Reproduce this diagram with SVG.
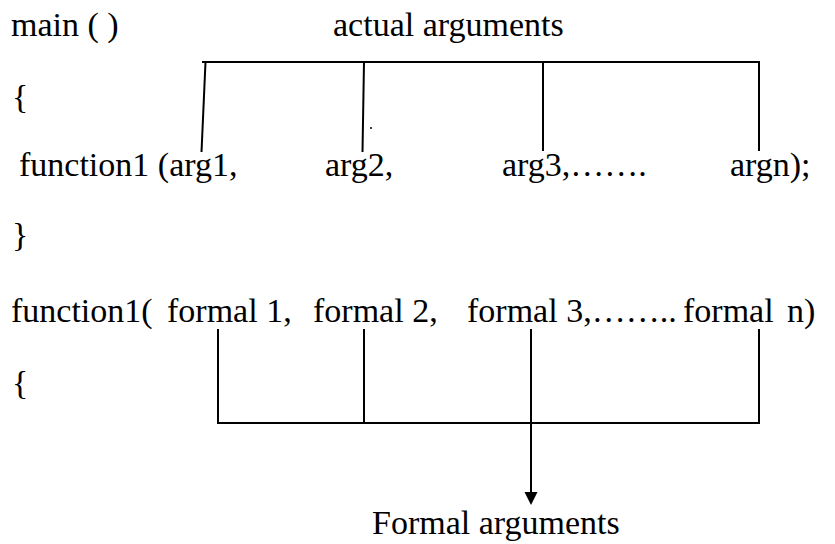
<svg xmlns="http://www.w3.org/2000/svg" width="835" height="544" viewBox="0 0 835 544">
<style>
.ln{stroke:#000;stroke-width:2;fill:none}
</style>
<rect width="835" height="544" fill="#fff"/>
<g id="code">
<text x="11" y="36" font-family="Liberation Serif" font-size="34">main ( )</text>
<text x="12" y="108" font-family="Liberation Serif" font-size="34">{</text>
<text x="19" y="176" font-family="Liberation Serif" font-size="34">function1 (arg1,</text>
<text x="325" y="176" font-family="Liberation Serif" font-size="34">arg2,</text>
<text x="502" y="176" font-family="Liberation Serif" font-size="34">arg3,…….</text>
<text x="730" y="176" font-family="Liberation Serif" font-size="34">argn);</text>
<text x="12" y="246" font-family="Liberation Serif" font-size="34">}</text>
<text x="11" y="322" font-family="Liberation Serif" font-size="34">function1(</text>
<text x="167" y="322" font-family="Liberation Serif" font-size="34">formal 1,</text>
<text x="313" y="322" font-family="Liberation Serif" font-size="34">formal 2,</text>
<text x="467" y="322" font-family="Liberation Serif" font-size="34">formal 3,……..</text>
<text x="683" y="322" font-family="Liberation Serif" font-size="34">formal</text>
<text x="787" y="322" font-family="Liberation Serif" font-size="34">n)</text>
<text x="12" y="394" font-family="Liberation Serif" font-size="34">{</text>
</g>
<g id="actual-label"><text x="333" y="36" font-family="Liberation Serif" font-size="34">actual arguments</text></g>
<g id="formal-label"><text x="372" y="534" font-family="Liberation Serif" font-size="34">Formal arguments</text></g>
<g id="connectors">
<path class="ln" d="M202,62 H760"/>
<path class="ln" d="M205.5,62 L201.5,152"/>
<path class="ln" d="M364,62 L362.5,152"/>
<path class="ln" d="M543,62 V151"/>
<path class="ln" d="M759,62 V151"/>
<circle cx="371" cy="128" r="1" fill="#000"/>
<path class="ln" d="M218,329 V423 H759 V329"/>
<path class="ln" d="M364,329 V423"/>
<path class="ln" d="M531,329 V492"/>
<path d="M524.5,492 L537.5,492 L531,505 Z" fill="#000"/>
</g>
</svg>
